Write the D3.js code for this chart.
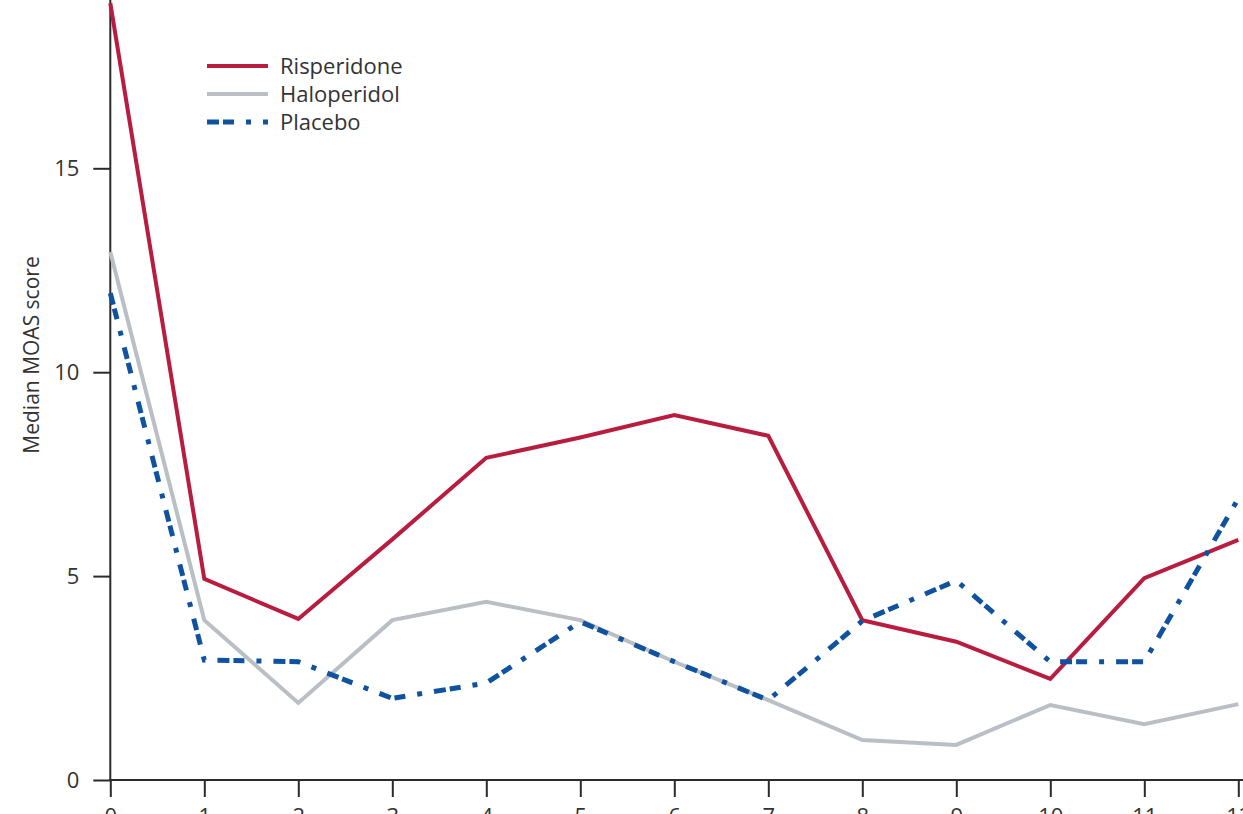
<!DOCTYPE html>
<html>
<head>
<meta charset="utf-8">
<script src="https://cdn.jsdelivr.net/npm/d3@7"></script>
<style>
  html, body { margin: 0; padding: 0; background: #fff; overflow: hidden; }
  svg { display: block; }
  text { font-family: "Open Sans", "Noto Sans", sans-serif; fill: #333; }
</style>
</head>
<body>
<svg id="chart" width="1243" height="814"></svg>
<script>
const weeks = [0, 1, 2, 3, 4, 5, 6, 7, 8, 9, 10, 11, 12];
const risperidone = [19.05, 4.93, 3.95, 5.9, 7.9, 8.4, 8.95, 8.44, 3.92, 3.39, 2.48, 4.95, 5.89];
const haloperidol = [12.95, 3.92, 1.89, 3.92, 4.37, 3.92, 2.9, 1.96, 0.98, 0.86, 1.84, 1.37, 1.86];
const placebo = [11.94, 2.94, 2.9, 2.0, 2.38, 3.88, 2.9, 1.96, 3.9, 4.89, 2.9, 2.9, 6.9];
const seriesNames = ["Risperidone", "Haloperidol", "Placebo"];
const yTicks = [0, 5, 10, 15];
const xTicks = [0, 1, 2, 3, 4, 5, 6, 7, 8, 9, 10, 11, 12];
const yTitle = "Median MOAS score";

const svg = d3.select("#chart");
const x = d3.scaleLinear().domain([0, 12]).range([110.3, 1238.3]);
const y = d3.scaleLinear().domain([0, 15]).range([780, 168.3]);

const styles = {
  Risperidone: { color: "#b81d3f", width: 4, dash: null },
  Haloperidol: { color: "#b9bfc5", width: 4, dash: null },
  Placebo: { color: "#0f52a0", width: 5, dash: "12,4,11,12,5,12" }
};
const series = [
  { name: "Risperidone", values: risperidone },
  { name: "Haloperidol", values: haloperidol },
  { name: "Placebo", values: placebo }
];

// axes
const yAxis = d3.axisLeft(y).tickValues(yTicks).tickSize(17).tickSizeOuter(0).tickPadding(14);
const gy = svg.append("g").attr("transform", `translate(${x(0)},0)`).call(yAxis);
gy.select(".domain").remove();
gy.append("line").attr("x1", 0).attr("x2", 0).attr("y1", 0).attr("y2", y(0) + 1)
  .attr("stroke", "#2b2b2b").attr("stroke-width", 2);
gy.selectAll(".tick line").attr("stroke", "#2b2b2b").attr("stroke-width", 2);
gy.selectAll(".tick text").style("font-size", "22px").attr("fill", "#333");

const xAxis = d3.axisBottom(x).tickValues(xTicks).tickSize(17).tickSizeOuter(0).tickPadding(11);
const gx = svg.append("g").attr("transform", `translate(0,${y(0)})`).call(xAxis);
gx.select(".domain").remove();
gx.append("line").attr("x1", x(0) - 1).attr("x2", 1243).attr("y1", 0).attr("y2", 0)
  .attr("stroke", "#2b2b2b").attr("stroke-width", 2);
gx.selectAll(".tick line").attr("stroke", "#2b2b2b").attr("stroke-width", 2);
gx.selectAll(".tick text").style("font-size", "22px").attr("fill", "#333");

// y title
svg.append("text")
  .attr("transform", `translate(39,355) rotate(-90)`)
  .attr("text-anchor", "middle")
  .style("font-size", "21px")
  .text(yTitle);

// lines
const line = d3.line().x((d, i) => x(weeks[i])).y(d => y(d));
series.forEach(s => {
  const st = styles[s.name];
  svg.append("path")
    .datum(s.values)
    .attr("d", line)
    .attr("fill", "none")
    .attr("stroke", st.color)
    .attr("stroke-width", st.width)
    .attr("stroke-linejoin", "miter")
    .attr("stroke-dasharray", st.dash);
});

// legend
const legend = svg.append("g");
seriesNames.forEach((n, i) => {
  const st = styles[n];
  const yy = 66 + i * 28;
  legend.append("line").attr("x1", 207).attr("x2", 268).attr("y1", yy).attr("y2", yy)
    .attr("stroke", st.color).attr("stroke-width", st.width).attr("stroke-dasharray", st.dash);
  legend.append("text").attr("x", 280).attr("y", yy).attr("dy", "0.35em")
    .style("font-size", "22px").text(n);
});
</script>
</body>
</html>
